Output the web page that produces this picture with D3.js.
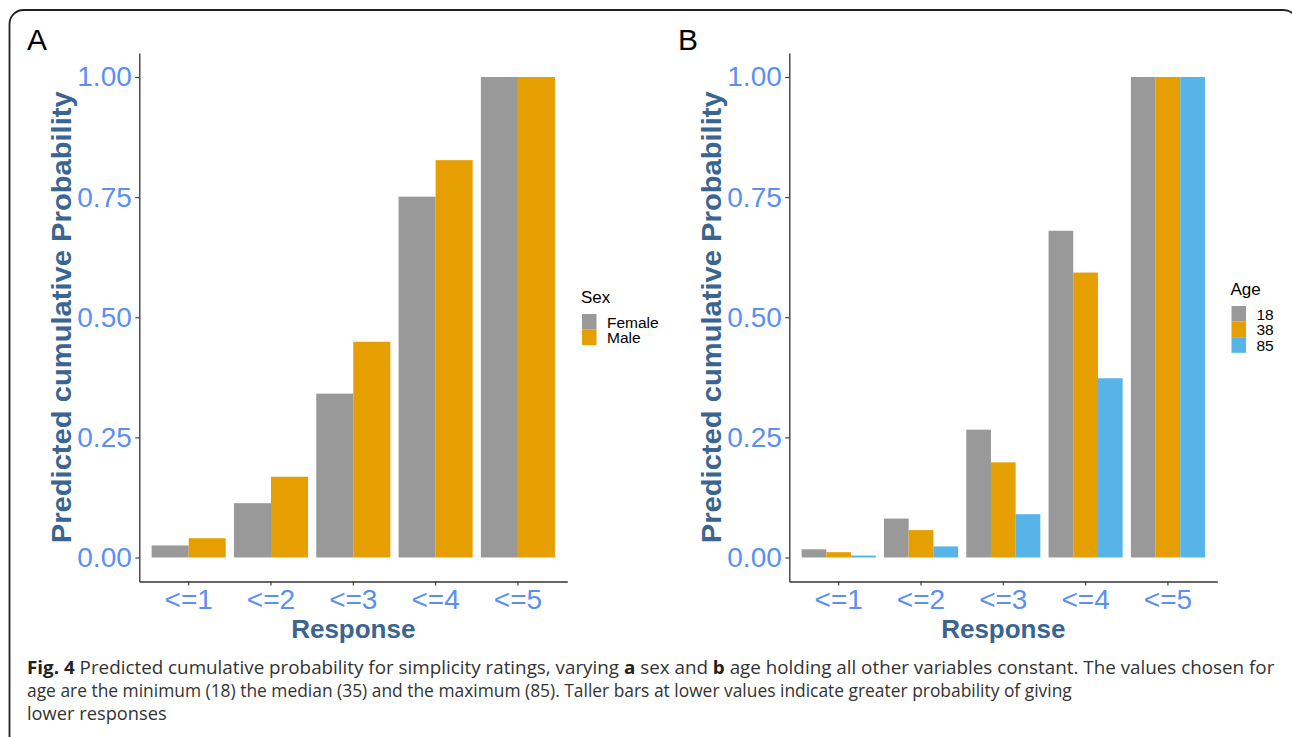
<!DOCTYPE html>
<html>
<head>
<meta charset="utf-8">
<script src="https://cdn.jsdelivr.net/npm/d3@7"></script>
<style>
  html, body { margin: 0; padding: 0; background: #fff; }
  svg { display: block; }
  text { font-family: Arial, "Liberation Sans", Helvetica, sans-serif; }
</style>
</head>
<body>
<svg id="chart" width="1292" height="737"></svg>
<script>
// ---------------- data ----------------
const categories = ["<=1", "<=2", "<=3", "<=4", "<=5"];
const yTickValues = [0, 0.25, 0.5, 0.75, 1.0];

const sexGroups = ["Female", "Male"];
const femaleProb = [0.025, 0.113, 0.341, 0.751, 1.0];
const maleProb   = [0.040, 0.168, 0.449, 0.827, 1.0];

const ageGroups = ["18", "38", "85"];
const age18Prob = [0.017, 0.081, 0.266, 0.680, 1.0];
const age38Prob = [0.011, 0.057, 0.198, 0.593, 1.0];
const age85Prob = [0.004, 0.023, 0.090, 0.373, 1.0];

const panelLabels = ["A", "B"];
const legendTitles = ["Sex", "Age"];
const yTitle = "Predicted cumulative Probability";
const xTitle = "Response";

// ---------------- style ----------------
const colGrey = "#999999", colOrange = "#E69F00", colBlue = "#56B4E9";
const tickBlue = "#5b8ff2";
const titleBlue = "#3a6591";

const svg = d3.select("#chart");

// frame
svg.append("rect")
  .attr("x", 9.5).attr("y", 10).attr("width", 1288).attr("height", 760)
  .attr("rx", 14).attr("ry", 14)
  .attr("fill", "none").attr("stroke", "#222").attr("stroke-width", 1.8);

function drawPanel(cfg) {
  const g = svg.append("g");
  const x = d3.scaleBand().domain(categories)
    .range([cfg.x0, cfg.x1]).paddingInner(0.1).paddingOuter(0.15);
  const y = d3.scaleLinear().domain([-0.05, 1.05]).range([581.5, 53]);
  const xs = d3.scaleBand().domain(cfg.groups).range([0, x.bandwidth()]);

  const rows = [];
  categories.forEach((c, i) => {
    cfg.groups.forEach((grp, j) => {
      rows.push({ c, grp, v: cfg.values[j][i], col: cfg.colors[j] });
    });
  });

  g.selectAll("rect.bar").data(rows).enter().append("rect")
    .attr("class", "bar")
    .attr("x", d => x(d.c) + xs(d.grp))
    .attr("width", xs.bandwidth())
    .attr("y", d => y(d.v))
    .attr("height", d => y(0) - y(d.v))
    .attr("fill", d => d.col);

  // y axis
  const ya = g.append("g").attr("transform", `translate(${cfg.x0},0)`)
    .call(d3.axisLeft(y).tickValues(yTickValues).tickFormat(d3.format(".2f"))
      .tickSize(4).tickSizeOuter(0).tickPadding(3.5));
  ya.selectAll("text").attr("fill", tickBlue).style("font-size", "28px");
  ya.selectAll("line").attr("stroke", "#333").attr("stroke-width", 1.1);
  ya.select(".domain").attr("stroke", "#333").attr("stroke-width", 1.3);

  // x axis
  const xa = g.append("g").attr("transform", `translate(0,${y(-0.05)})`)
    .call(d3.axisBottom(x).tickSize(4).tickSizeOuter(0).tickPadding(4));
  xa.selectAll("text").attr("fill", tickBlue).style("font-size", "28px");
  xa.selectAll("line").attr("stroke", "#333").attr("stroke-width", 1.1);
  xa.select(".domain").attr("stroke", "#333").attr("stroke-width", 1.3);

  // titles
  g.append("text")
    .attr("transform", `translate(${cfg.x0 - 68},${(y(-0.05) + y(1.05)) / 2}) rotate(-90)`)
    .attr("text-anchor", "middle")
    .attr("textLength", 452).attr("lengthAdjust", "spacingAndGlyphs")
    .attr("fill", titleBlue).style("font-size", "27px").style("font-weight", "bold")
    .text(yTitle);
  g.append("text")
    .attr("x", (cfg.x0 + cfg.x1) / 2).attr("y", 638)
    .attr("text-anchor", "middle")
    .attr("fill", titleBlue).style("font-size", "26px").style("font-weight", "bold")
    .text(xTitle);

  // panel label
  g.append("text").attr("x", cfg.labelX).attr("y", 50)
    .style("font-size", "30px").attr("fill", "#000").text(cfg.label);

  // legend
  const lg = g.append("g");
  lg.append("text").attr("x", cfg.legX).attr("y", cfg.legY)
    .style("font-size", "17px").attr("fill", "#000").text(cfg.legendTitle);
  cfg.groups.forEach((grp, j) => {
    const top = cfg.legY + 11 + j * 15.6;
    lg.append("rect").attr("x", cfg.legX + 1).attr("y", top)
      .attr("width", 14.5).attr("height", 15.6).attr("fill", cfg.colors[j]);
    lg.append("text").attr("x", cfg.legX + 26).attr("y", top + 13.5)
      .style("font-size", "15.5px").attr("fill", "#000")
      .text(grp);
  });
}

drawPanel({
  x0: 139.3, x1: 567.3, groups: sexGroups, values: [femaleProb, maleProb],
  colors: [colGrey, colOrange], label: panelLabels[0], labelX: 27,
  legendTitle: legendTitles[0], legX: 581, legY: 303
});
drawPanel({
  x0: 789.3, x1: 1217.3, groups: ageGroups, values: [age18Prob, age38Prob, age85Prob],
  colors: [colGrey, colOrange, colBlue], label: panelLabels[1], labelX: 678,
  legendTitle: legendTitles[1], legX: 1230.5, legY: 295
});

// ---------------- caption ----------------
const captionLines = [
  { parts: [["Fig. 4", true], [" Predicted cumulative probability for simplicity ratings, varying ", false], ["a", true], [" sex and ", false], ["b", true], [" age holding all other variables constant. The values chosen for", false]], width: 1248, y: 674 },
  { parts: [["age are the minimum (18) the median (35) and the maximum (85). Taller bars at lower values indicate greater probability of giving", false]], width: 1046, y: 697 },
  { parts: [["lower responses", false]], width: null, y: 720 }
];
let lastScale = 1;
captionLines.forEach(line => {
  const lg = svg.append("g");
  const t = lg.append("text").attr("x", 0).attr("y", line.y)
    .style("font-family", "'Liberation Sans Narrow', 'Open Sans', Arial, sans-serif")
    .style("font-size", "18px").attr("fill", "#333");
  line.parts.forEach(([s, b]) => {
    t.append("tspan").style("font-weight", b ? "bold" : "normal")
      .attr("fill", b ? "#222" : "#333").text(s);
  });
  const w = t.node().getComputedTextLength();
  const sx = line.width ? line.width / w : lastScale * 1.05;
  lastScale = sx;
  lg.attr("transform", `translate(27,0) scale(${sx},1)`);
});
</script>
</body>
</html>
